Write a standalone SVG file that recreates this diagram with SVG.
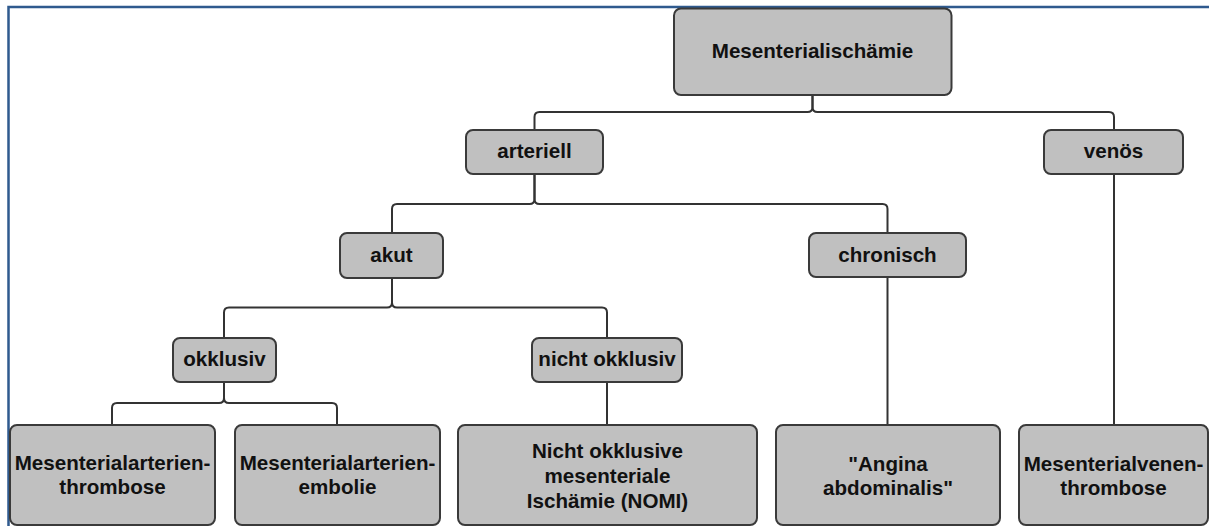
<svg xmlns="http://www.w3.org/2000/svg" width="1209" height="526" viewBox="0 0 1209 526">
<style>
.n rect{fill:#c0c0c0;stroke:#3a3a3a;stroke-width:2}
.n text{font-family:"Liberation Sans",Arial,sans-serif;font-weight:bold;font-size:20.6px;fill:#111;text-anchor:middle}
#connectors path{fill:none;stroke:#333;stroke-width:2}
</style>
<rect x="0" y="0" width="1209" height="526" fill="#fff"/>
<rect x="8.5" y="7" width="1300" height="600" fill="none" stroke="#2f5a8e" stroke-width="2.5"/>
<g id="connectors">
<path d="M812.5,95 V107 Q812.5,112 817.5,112 H1109 Q1114,112 1114,117 V130"/>
<path d="M812.5,95 V107 Q812.5,112 807.5,112 H539.5 Q534.5,112 534.5,117 V130"/>
<path d="M534.5,174 V199 Q534.5,204 529.5,204 H397 Q392,204 392,209 V233"/>
<path d="M534.5,174 V199 Q534.5,204 539.5,204 H882.5 Q887.5,204 887.5,209 V233"/>
<path d="M392,278 V302.5 Q392,307.5 387,307.5 H229 Q224,307.5 224,312.5 V338"/>
<path d="M392,278 V302.5 Q392,307.5 397,307.5 H602 Q607,307.5 607,312.5 V338"/>
<path d="M224,382 V398 Q224,403 219,403 H117 Q112,403 112,408 V425"/>
<path d="M224,382 V398 Q224,403 229,403 H332 Q337,403 337,408 V425"/>
<path d="M607,382 V425"/>
<path d="M887.5,277 V425"/>
<path d="M1114,174 V425"/>
</g>
<g id="n-root" class="n"><rect x="674" y="8.5" width="277.5" height="86.5" rx="7"/><text x="812.5" y="57.5">Mesenterialischämie</text></g>
<g id="n-arteriell" class="n"><rect x="466" y="130" width="137" height="44" rx="7"/><text x="534.5" y="158">arteriell</text></g>
<g id="n-venoes" class="n"><rect x="1044" y="130" width="139" height="44" rx="7"/><text x="1113.5" y="158">venös</text></g>
<g id="n-akut" class="n"><rect x="340" y="233" width="103" height="45" rx="7"/><text x="391.5" y="261.5">akut</text></g>
<g id="n-chronisch" class="n"><rect x="809" y="233" width="157" height="44" rx="7"/><text x="887.5" y="261.5">chronisch</text></g>
<g id="n-okklusiv" class="n"><rect x="173" y="338" width="103" height="44" rx="7"/><text x="224.5" y="366">okklusiv</text></g>
<g id="n-nichtokklusiv" class="n"><rect x="532" y="338" width="150" height="44" rx="7"/><text x="607" y="366">nicht okklusiv</text></g>
<g id="n-thrombose" class="n"><rect x="10" y="425" width="205" height="100" rx="7"/><text x="112.5" y="469.5">Mesenterialarterien-</text><text x="112.5" y="493.5">thrombose</text></g>
<g id="n-embolie" class="n"><rect x="235" y="425" width="205" height="100" rx="7"/><text x="337.5" y="469.5">Mesenterialarterien-</text><text x="337.5" y="493.5">embolie</text></g>
<g id="n-nomi" class="n"><rect x="458" y="425" width="299" height="100" rx="7"/><text x="607.5" y="457.5">Nicht okklusive</text><text x="607.5" y="482.5">mesenteriale</text><text x="607.5" y="507.5">Ischämie (NOMI)</text></g>
<g id="n-angina" class="n"><rect x="776" y="425" width="224" height="100" rx="7"/><text x="888" y="470.5">"Angina</text><text x="888" y="494.5">abdominalis"</text></g>
<g id="n-venen" class="n"><rect x="1019" y="425" width="189" height="100" rx="7"/><text x="1113.5" y="470.5">Mesenterialvenen-</text><text x="1113.5" y="494.5">thrombose</text></g>
</svg>
